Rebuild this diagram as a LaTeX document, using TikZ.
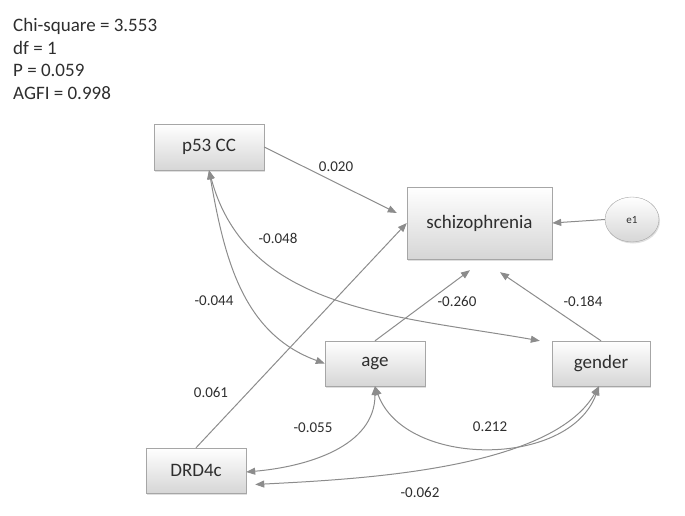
\documentclass[tikz,border=0pt]{standalone}
\usepackage{fontspec}
\setmainfont{Carlito}
\usetikzlibrary{arrows.meta,shapes.geometric,shadows}

\begin{document}
\begin{tikzpicture}[x=1pt,y=1pt,
  var/.style={draw=boxLine, top color=white, bottom color=boxLow,
    minimum width=100pt, minimum height=45pt, inner sep=0pt,
    drop shadow={shadow xshift=1pt,shadow yshift=-1.5pt,opacity=0.25},
    font=\fontsize{19}{23}\selectfont, text=txtDark},
  coef/.style={font=\fontsize{15}{18}\selectfont, text=txtDark, inner sep=0pt},
  effect/.style={draw=lineGray, line width=1pt, -{Triangle[length=9pt,width=7pt]}},
  corr/.style={draw=lineGray, line width=1pt,
    {Triangle[length=9pt,width=7pt]}-{Triangle[length=9pt,width=7pt]}}]
\definecolor{boxLine}{HTML}{A6A6A6}
\definecolor{boxLow}{HTML}{D6D6D6}
\definecolor{lineGray}{HTML}{8C8C8C}
\definecolor{txtDark}{HTML}{2E2E2E}
\useasboundingbox (0,0) rectangle (685,-516);

% fit statistics
\foreach \yy/\txt [count=\i] in {32/{Chi-square = 3.553},55/{df = 1},77/{P = 0.059},100/{AGFI = 0.998}} {
  \node[anchor=base west, inner sep=0pt, font=\fontsize{19}{23}\selectfont, text=txtDark] (fit\i) at (13,-\yy) {\txt};
}

% variables
\node[var, minimum width=110pt, minimum height=46pt] (p53) at (209,-147) {p53 CC};
\node[var, minimum width=145pt, minimum height=72pt] (schizo) at (479.5,-223) {schizophrenia};
\node[var] (age) at (375,-363.5) {age};
\node[var, minimum width=98pt] (gender) at (601,-363.5) {gender};
\node[var] (drd) at (196,-470.5) {DRD4c};
\node[var, ellipse, minimum width=54pt, minimum height=45pt, font=\fontsize{11}{13}\selectfont] (e1) at (632,-219.5) {e1};

% regression paths
\draw[effect] (p53.east) -- ([xshift=-10pt,yshift=10pt]schizo.west);
\draw[effect] (drd.north) -- (schizo.west);
\draw[effect] (age.north) -- ([xshift=-9.5pt,yshift=-11pt]schizo.south);
\draw[effect] (gender.north) -- ([xshift=20.5pt,yshift=-13pt]schizo.south);
\draw[effect] (e1.west) -- (schizo.east);

% covariances
\draw[corr] (p53.south) to[out=-80,in=160] (age.west);
\draw[corr] (p53.south) to[out=-75,in=170] ([xshift=-12pt]gender.north west);
\draw[corr] ([yshift=-1.5pt]drd.east) to[out=5,in=-90] (age.south);
\draw[corr] (age.south) to[out=-70,in=-110] ([xshift=-2pt]gender.south);
\draw[corr] ([xshift=9pt,yshift=-14pt]drd.east) to[out=3,in=-120,looseness=0.7] ([xshift=-2pt]gender.south);

% coefficients
\node[coef] (c1) at (336,-167) {0.020};
\node[coef] (c2) at (278,-238) {-0.048};
\node[coef] (c3) at (214,-301) {-0.044};
\node[coef] (c4) at (457,-301) {-0.260};
\node[coef] (c5) at (583,-301) {-0.184};
\node[coef] (c6) at (211,-392) {0.061};
\node[coef] (c7) at (313,-428) {-0.055};
\node[coef] (c8) at (490,-427) {0.212};
\node[coef] (c9) at (420,-492) {-0.062};
\end{tikzpicture}
\end{document}
